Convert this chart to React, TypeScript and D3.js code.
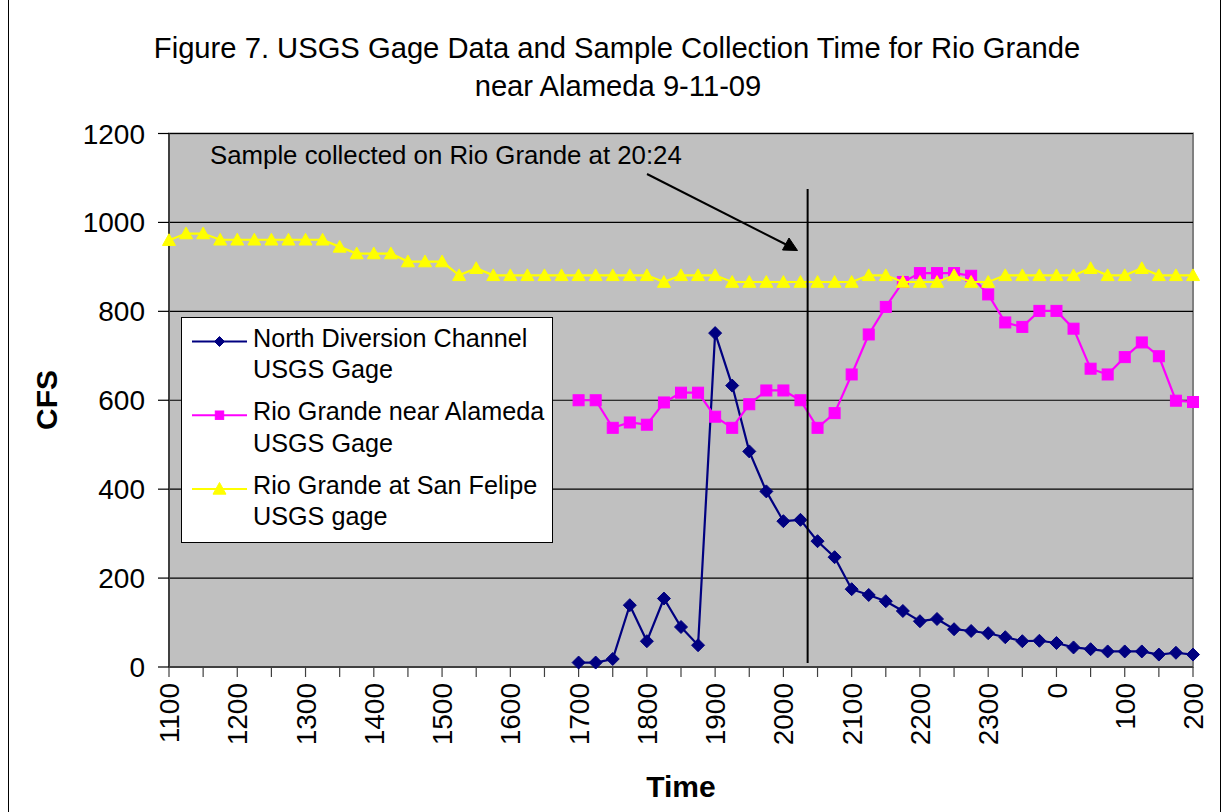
import React from "react";
import * as d3 from "d3";

const categories: string[] = [
  "1100","1115","1130","1145","1200","1215","1230","1245","1300","1315","1330","1345",
  "1400","1415","1430","1445","1500","1515","1530","1545","1600","1615","1630","1645",
  "1700","1715","1730","1745","1800","1815","1830","1845","1900","1915","1930","1945",
  "2000","2015","2030","2045","2100","2115","2130","2145","2200","2215","2230","2245",
  "2300","2315","2330","2345","0","15","30","45","100","115","130","145","200",
];

const tickLabels: string[] = ["1100","1200","1300","1400","1500","1600","1700","1800","1900","2000","2100","2200","2300","0","100","200"];

const N = null;
const northDiversion: (number | null)[] = [
  N,N,N,N,N,N,N,N,N,N,N,N,N,N,N,N,N,N,N,N,N,N,N,N,
  10,10,18,139,58,154,90,49,751,633,485,395,328,331,283,247,175,162,148,126,103,108,85,81,76,67,58,59,54,44,40,35,35,35,28,32,28,
];

const alameda: (number | null)[] = [
  N,N,N,N,N,N,N,N,N,N,N,N,N,N,N,N,N,N,N,N,N,N,N,N,
  600,600,538,550,545,595,617,617,563,538,591,622,622,600,538,571,658,748,810,866,886,886,886,880,838,775,765,801,801,761,671,658,697,730,699,599,596,
];

const sanFelipe: (number | null)[] = [
  960,975,975,961,961,961,961,961,961,961,945,930,930,930,912,912,912,881,897,881,
  881,881,881,881,881,881,881,881,881,866,881,881,881,866,866,866,866,866,866,866,
  866,881,881,866,866,866,881,866,866,881,881,881,881,881,897,881,881,897,881,881,881,
];

const yTicks: number[] = [0, 200, 400, 600, 800, 1000, 1200];

const seriesNames: string[][] = [
  ["North Diversion Channel", "USGS Gage"],
  ["Rio Grande near Alameda", "USGS Gage"],
  ["Rio Grande at San Felipe", "USGS gage"],
];

const sampleAfter = "2015";
const sampleFraction = 0.42; // 20:24 sample time, between 2015 and 2030

const FONT = "'Liberation Sans', Arial, sans-serif";

function marker(kind: string, x: number, y: number, s: number, color: string, key: any) {
  if (kind === "diamond") {
    const p = `M${x},${y - s} L${x + s},${y} L${x},${y + s} L${x - s},${y} Z`;
    return <path key={key} d={p} fill={color} stroke={color} strokeWidth={1} />;
  }
  if (kind === "square") {
    return <rect key={key} x={x - s} y={y - s} width={2 * s} height={2 * s} fill={color} stroke={color} strokeWidth={1} />;
  }
  const h = s * 1.8;
  const p = `M${x},${y - h * 0.55} L${x + s},${y + h * 0.45} L${x - s},${y + h * 0.45} Z`;
  return <path key={key} d={p} fill={color} stroke={color} strokeWidth={1} />;
}

export default function App() {
  const W = 1227, H = 812;
  const left = 169, right = 1193, top = 133.5, bottom = 667;

  const x = d3.scalePoint<string>().domain(categories).range([left, right]).padding(0);
  const y = d3.scaleLinear().domain([0, 1200]).range([bottom, top]);
  const step = x.step();

  const line = d3
    .line<number | null>()
    .defined((d) => d !== null)
    .x((_, i) => x(categories[i]) as number)
    .y((d) => y(d as number));

  const series = [
    { data: northDiversion, color: "#000080", kind: "diamond", size: 6.5, lsize: 5 },
    { data: alameda, color: "#FF00FF", kind: "square", size: 5.5, lsize: 4.2 },
    { data: sanFelipe, color: "#FFFF00", kind: "triangle", size: 6.5, lsize: 6.5 },
  ];

  const sampleX = (x(sampleAfter) as number) + sampleFraction * step;

  return (
    <svg width={W} height={H} style={{ position: "absolute", left: 0, top: 0, background: "#fff" }} fontFamily={FONT}>
      <rect x={0} y={0} width={W} height={H} fill="#fff" />
      <line x1={8.5} x2={8.5} y1={0} y2={H} stroke="#000" strokeWidth={1} />
      <line x1={1220.5} x2={1220.5} y1={0} y2={H} stroke="#000" strokeWidth={1} />

      {/* title */}
      <text x={617} y={58} textAnchor="middle" fontSize={29.2} fill="#000">
        Figure 7. USGS Gage Data and Sample Collection Time for Rio Grande
      </text>
      <text x={618} y={96} textAnchor="middle" fontSize={29.2} fill="#000">
        near Alameda 9-11-09
      </text>

      {/* plot area */}
      <rect x={left} y={top} width={right - left} height={bottom - top} fill="#C0C0C0" stroke="#808080" strokeWidth={2} />
      {yTicks.filter((t) => t > 0).map((t) => (
        <line key={"g" + t} x1={left} x2={right} y1={y(t)} y2={y(t)} stroke="#000" strokeWidth={1.2} />
      ))}

      {/* axes */}
      <line x1={left} x2={left} y1={top} y2={bottom} stroke="#404040" strokeWidth={2} />
      <line x1={left} x2={right} y1={bottom} y2={bottom} stroke="#404040" strokeWidth={2} />
      {yTicks.map((t) => (
        <g key={"yt" + t}>
          <line x1={158} x2={left} y1={y(t)} y2={y(t)} stroke="#000" strokeWidth={1.2} />
          <text x={145} y={y(t)} dy="0.36em" textAnchor="end" fontSize={28} fill="#000">
            {t}
          </text>
        </g>
      ))}
      {categories.map((c, i) =>
        i % 2 === 0 ? (
          <line key={"xt" + c} x1={x(c)} x2={x(c)} y1={bottom} y2={bottom + 10} stroke="#404040" strokeWidth={1.2} />
        ) : null
      )}
      {tickLabels.map((c) => (
        <text
          key={"xl" + c}
          transform={`translate(${x(c)},683) rotate(-90)`}
          dy="0.36em"
          textAnchor="end"
          fontSize={28}
          fill="#000"
        >
          {c}
        </text>
      ))}

      <text transform="translate(57,400) rotate(-90)" textAnchor="middle" fontSize={30} fontWeight="bold" fill="#000">
        CFS
      </text>
      <text x={681} y={797} textAnchor="middle" fontSize={30} fontWeight="bold" fill="#000">
        Time
      </text>

      {/* series */}
      {series.map((s, si) => (
        <g key={"s" + si}>
          <path d={line(s.data) || ""} fill="none" stroke={s.color} strokeWidth={2.2} />
          {s.data.map((v, i) =>
            v === null ? null : marker(s.kind, x(categories[i]) as number, y(v), s.size, s.color, i)
          )}
        </g>
      ))}

      {/* sample line and annotation */}
      <line x1={sampleX} x2={sampleX} y1={189} y2={663} stroke="#000" strokeWidth={2} />
      <text x={210} y={164} fontSize={25.8} fill="#000">
        Sample collected on Rio Grande at 20:24
      </text>
      <line x1={647} y1={174} x2={788} y2={245.5} stroke="#000" strokeWidth={2} />
      <path d="M797.5,250.5 L782.5,250 L789,238 Z" fill="#000" stroke="#000" strokeWidth={1} />

      {/* legend */}
      <rect x={181.5} y={317.5} width={371} height={225} fill="#fff" stroke="#000" strokeWidth={1} />
      {series.map((s, si) => {
        const ly = 341.5 + si * 73.7;
        return (
          <g key={"lg" + si}>
            <line x1={192} x2={247} y1={ly} y2={ly} stroke={s.color} strokeWidth={2} />
            {marker(s.kind, 219.5, ly, s.lsize, s.color, "m")}
            <text x={253} y={ly + 5} fontSize={25.2} fill="#000">
              {seriesNames[si][0]}
            </text>
            <text x={253} y={ly + 36.5} fontSize={25.2} fill="#000">
              {seriesNames[si][1]}
            </text>
          </g>
        );
      })}
    </svg>
  );
}
